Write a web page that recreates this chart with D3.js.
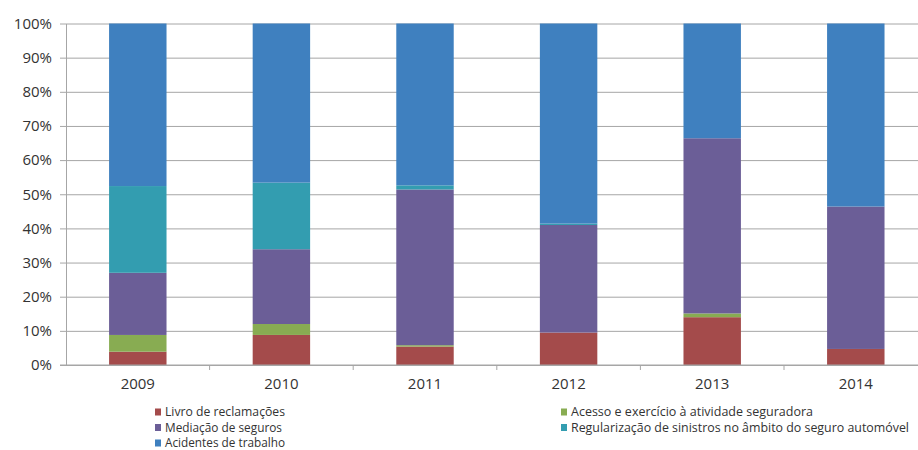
<!DOCTYPE html>
<html>
<head>
<meta charset="utf-8">
<script src="https://cdn.jsdelivr.net/npm/d3@7"></script>
<style>
  html, body { margin: 0; padding: 0; background: #fff; }
  svg { display: block; }
  text { font-family: "Open Sans", "Liberation Sans", sans-serif; fill: #333; }
</style>
</head>
<body>
<svg id="chart" width="918" height="450"></svg>
<script>
// Years shown on the x axis
const years = ["2009", "2010", "2011", "2012", "2013", "2014"];

// Share of each complaint type per year (%)
const livroReclamacoes   = [3.9, 8.8, 5.4, 9.5, 14.0, 4.7];
const acessoExercicio    = [4.9, 3.2, 0.4, 0.0, 1.1, 0.0];
const mediacaoSeguros    = [18.2, 21.9, 45.6, 31.5, 51.3, 41.7];
const regularizacao      = [25.4, 19.5, 1.2, 0.4, 0.0, 0.0];
const acidentesTrabalho  = [47.6, 46.6, 47.4, 58.6, 33.6, 53.6];

const seriesNames = [
  "Livro de reclamações",
  "Acesso e exercício à atividade seguradora",
  "Mediação de seguros",
  "Regularização de sinistros no âmbito do seguro automóvel",
  "Acidentes de trabalho"
];
const seriesValues = [livroReclamacoes, acessoExercicio, mediacaoSeguros, regularizacao, acidentesTrabalho];
const seriesColors = ["#A44B4B", "#88AC52", "#6B5E97", "#339DB0", "#3F80BF"];

const yTicks = [0, 10, 20, 30, 40, 50, 60, 70, 80, 90, 100];

const rows = years.map((yr, i) => {
  const r = { year: yr };
  seriesNames.forEach((n, k) => r[n] = seriesValues[k][i]);
  return r;
});

const svg = d3.select("#chart");
const plotLeft = 66, plotRight = 927.6, plotTop = 23.5, plotBottom = 365;

const x = d3.scaleBand().domain(years).range([plotLeft, plotRight]).paddingInner(0.6).paddingOuter(0.3);
const y = d3.scaleLinear().domain([0, 100]).range([plotBottom, plotTop]);

// horizontal gridlines with short ticks at the left
const grid = svg.append("g").attr("transform", `translate(${plotLeft},0)`)
  .call(d3.axisLeft(y).tickValues(yTicks).tickSize(-(918 - plotLeft)).tickFormat(""));
grid.select(".domain").remove();
grid.selectAll(".tick line").attr("stroke", "#a6a6a6").attr("stroke-width", 1).attr("x1", -6);

// y labels
const yAxis = svg.append("g").attr("transform", `translate(${plotLeft},0)`)
  .call(d3.axisLeft(y).tickValues(yTicks).tickSize(0).tickPadding(14).tickFormat(d => d + "%"));
yAxis.select(".domain").attr("stroke", "#a6a6a6");
yAxis.selectAll("text").style("font-size", "15px").attr("fill", "#333");

// stacked bars
const stack = d3.stack().keys(seriesNames)(rows);
svg.append("g").selectAll("g").data(stack).join("g")
  .attr("fill", (d, i) => seriesColors[i])
  .selectAll("rect").data(d => d).join("rect")
  .attr("x", d => x(d.data.year))
  .attr("width", x.bandwidth())
  .attr("y", d => y(d[1]))
  .attr("height", d => y(d[0]) - y(d[1]));

// x axis with ticks between categories
const xAxis = svg.append("g").attr("transform", `translate(0,${plotBottom})`);
xAxis.append("line").attr("x1", plotLeft - 6).attr("x2", 918).attr("stroke", "#a6a6a6");
const step = x.step();
xAxis.selectAll("line.sep").data(years.slice(1)).join("line").attr("class", "sep")
  .attr("x1", d => x(d) - (step - x.bandwidth()) / 2)
  .attr("x2", d => x(d) - (step - x.bandwidth()) / 2)
  .attr("y1", 0).attr("y2", 5).attr("stroke", "#a6a6a6");
xAxis.selectAll("text").data(years).join("text")
  .attr("x", d => x(d) + x.bandwidth() / 2)
  .attr("y", 24)
  .attr("text-anchor", "middle")
  .style("font-size", "15px")
  .text(d => d);

// legend: two columns, condensed text
const legendPos = [
  [155, 412], [561, 412],
  [155, 427.5], [561, 427.5],
  [155, 443]
];
const legendWidths = [120, 242, 117, 338, 120];
const legend = svg.append("g");
seriesNames.forEach((name, k) => {
  const [lx, ly] = legendPos[k];
  legend.append("rect").attr("x", lx).attr("y", ly - 3.5).attr("width", 6).attr("height", 7).attr("fill", seriesColors[k]);
  legend.append("text").attr("x", lx + 10).attr("y", ly + 4.3)
    .style("font-size", "12.5px")
    .attr("textLength", legendWidths[k])
    .attr("lengthAdjust", "spacingAndGlyphs")
    .text(name);
});
</script>
</body>
</html>
